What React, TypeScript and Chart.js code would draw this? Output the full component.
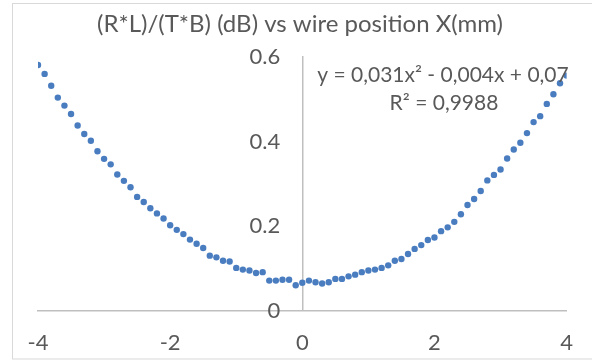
import React, { useEffect, useRef } from "react";
import { Chart, registerables } from "chart.js";

Chart.register(...registerables);

const TITLE = "(R*L)/(T*B) (dB) vs wire position X(mm)";
const EQUATION = "y = 0,031x² - 0,004x + 0,07";
const R_SQUARED = "R² = 0,9988";

const xPositions = [
  -4.0, -3.9, -3.8, -3.7, -3.6, -3.5, -3.4, -3.3, -3.2, -3.1,
  -3.0, -2.9, -2.8, -2.7, -2.6, -2.5, -2.4, -2.3, -2.2, -2.1,
  -2.0, -1.9, -1.8, -1.7, -1.6, -1.5, -1.4, -1.3, -1.2, -1.1,
  -1.0, -0.9, -0.8, -0.7, -0.6, -0.5, -0.4, -0.3, -0.2, -0.1,
  0.0, 0.1, 0.2, 0.3, 0.4, 0.5, 0.6, 0.7, 0.8, 0.9,
  1.0, 1.1, 1.2, 1.3, 1.4, 1.5, 1.6, 1.7, 1.8, 1.9,
  2.0, 2.1, 2.2, 2.3, 2.4, 2.5, 2.6, 2.7, 2.8, 2.9,
  3.0, 3.1, 3.2, 3.3, 3.4, 3.5, 3.6, 3.7, 3.8, 3.9,
  4.0,
];

const ratioDb = [
  0.581, 0.560, 0.532, 0.504, 0.485, 0.465, 0.438, 0.418, 0.402, 0.377,
  0.359, 0.346, 0.322, 0.307, 0.292, 0.269, 0.257, 0.242, 0.230, 0.218,
  0.202, 0.191, 0.181, 0.168, 0.158, 0.148, 0.130, 0.126, 0.118, 0.116,
  0.101, 0.097, 0.095, 0.089, 0.091, 0.071, 0.071, 0.073, 0.073, 0.060,
  0.066, 0.071, 0.067, 0.064, 0.067, 0.075, 0.075, 0.081, 0.085, 0.091,
  0.095, 0.097, 0.101, 0.107, 0.118, 0.122, 0.134, 0.146, 0.155, 0.167,
  0.173, 0.188, 0.197, 0.210, 0.228, 0.250, 0.264, 0.283, 0.308, 0.321,
  0.334, 0.360, 0.381, 0.397, 0.420, 0.446, 0.460, 0.489, 0.512, 0.538,
  0.556,
];

const xTickValues = [-4, -2, 0, 2, 4];
const xTickLabels = ["-4", "-2", "0", "2", "4"];
const yTickValues = [0, 0.2, 0.4, 0.6];
const yTickLabels = ["0", "0.2", "0.4", "0.6"];

const FONT = "Lato";
const TEXT_COLOR = "#595959";

export default function App() {
  const canvasRef = useRef<HTMLCanvasElement | null>(null);

  useEffect(() => {
    const canvas = canvasRef.current;
    if (!canvas) return;

    const decor = {
      id: "decor",
      beforeDraw(chart: any) {
        const ctx = chart.ctx;
        ctx.save();
        ctx.fillStyle = "#ffffff";
        ctx.fillRect(0, 0, chart.width, chart.height);
        ctx.strokeStyle = "#d9d9d9";
        ctx.lineWidth = 1;
        ctx.strokeRect(12.5, 3.5, 600, 355.5);
        ctx.restore();
      },
      afterDraw(chart: any) {
        const ctx = chart.ctx;
        const yScale = chart.scales.y;
        const xScale = chart.scales.x;
        ctx.save();
        ctx.fillStyle = TEXT_COLOR;
        // y tick labels, left of the axis that crosses at x = 0
        ctx.font = `22px ${FONT}`;
        ctx.textAlign = "right";
        ctx.textBaseline = "middle";
        const axisX = xScale.getPixelForValue(0);
        yTickValues.forEach((v, i) => {
          ctx.fillText(yTickLabels[i], axisX - 22, yScale.getPixelForValue(v));
        });
        // title and trendline label
        ctx.textAlign = "center";
        ctx.textBaseline = "alphabetic";
        ctx.font = `24px ${FONT}`;
        ctx.fillText(TITLE, 300, 32);
        ctx.font = `21px ${FONT}`;
        ctx.fillText(EQUATION, 443, 82);
        ctx.fillText(R_SQUARED, 444, 110);
        ctx.restore();
      },
    };

    const chart = new Chart(canvas, {
      type: "scatter",
      data: {
        datasets: [
          {
            label: "data",
            data: xPositions.map((x, i) => ({ x, y: ratioDb[i] })),
            backgroundColor: "#4a7dc0",
            borderColor: "#4a7dc0",
            pointRadius: 3.2,
            pointBorderWidth: 0,
            showLine: false,
          },
        ],
      },
      options: {
        responsive: false,
        animation: false,
        devicePixelRatio: 1,
        layout: { padding: { left: 38, right: 19, top: 57, bottom: -14 } },
        plugins: {
          legend: { display: false },
          title: { display: false },
          tooltip: { enabled: false },
        },
        scales: {
          x: {
            type: "linear",
            position: "bottom",
            min: -4,
            max: 4,
            afterBuildTicks: (scale: any) => {
              scale.ticks = xTickValues.map((value) => ({ value }));
            },
            grid: { display: false, drawTicks: false },
            border: { display: true, color: "#bfbfbf", width: 1.5 },
            ticks: {
              padding: 19,
              color: TEXT_COLOR,
              font: { family: FONT, size: 22 },
              callback: (v: any) => xTickLabels[xTickValues.indexOf(Number(v))] ?? "",
            },
          },
          y: {
            type: "linear",
            position: { x: 0 } as any,
            min: 0,
            max: 0.6,
            afterBuildTicks: (scale: any) => {
              scale.ticks = yTickValues.map((value) => ({ value }));
            },
            grid: { display: false, drawTicks: false },
            border: { display: true, color: "#bfbfbf", width: 1.5 },
            ticks: { display: false },
          },
        },
      },
      plugins: [decor],
    });

    return () => chart.destroy();
  }, []);

  return (
    <div style={{ position: "absolute", left: 0, top: 0, width: 592, height: 361 }}>
      <canvas ref={canvasRef} width={592} height={361} />
    </div>
  );
}
